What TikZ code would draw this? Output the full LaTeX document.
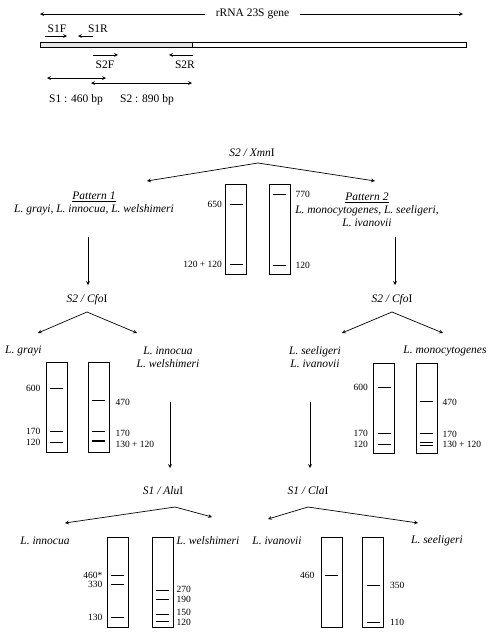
\documentclass[tikz,border=0pt]{standalone}
\usepackage{fontspec}
\setmainfont{Liberation Serif}
\usetikzlibrary{positioning, arrows}
\tikzset{
>=stealth, % small filled arrow heads
every node/.style={font=\fontsize{11.5}{13}\selectfont, inner sep=1pt}, % text of the scheme
gel/.style={draw, line width=0.8pt, minimum width=21pt, minimum height=90pt, inner sep=0pt}, % one lane of a gel
band/.style={line width=1pt}, % a band in a lane
size/.style={font=\fontsize{9.5}{10}\selectfont, inner sep=0pt}, % the size of a band
link/.style={->, line width=0.7pt}, % arrows of the scheme
}

\begin{document}
\begin{tikzpicture}[x=1pt, y=-1pt]
\useasboundingbox (0,0) rectangle (490,633);

% gene and primers
\node[minimum width=95pt] (gene) at (252.5,14) {rRNA 23S gene};
\coordinate (gl) at (40,14);
\coordinate (gr) at (463,14);
\draw[link] (gene.west) -- (gl);
\draw[link] (gene.east) -- (gr);

\node[draw, fill=gray!20, minimum width=152pt, minimum height=5pt, inner sep=0pt, anchor=west] (s12) at (40,44.5) {};
\node[draw, minimum width=274pt, minimum height=5pt, inner sep=0pt, anchor=west] (rest) at (s12.east) {};

\node (s1f) at (57,29) {S1F};
\node (s1r) at (98,29) {S1R};
\node (s2f) at (105,65) {S2F};
\node (s2r) at (185,65) {S2R};
\draw[link] ([shift={(-12,2)}]s1f.south) -- ([shift={(10,2)}]s1f.south);
\draw[link] ([shift={(-5,2)}]s1r.south) -- ([shift={(-20,2)}]s1r.south);
\draw[link] ([shift={(-12,-5)}]s2f.north) -- ([shift={(13,-5)}]s2f.north);
\draw[link] ([shift={(8,-5)}]s2r.north) -- ([shift={(-16,-5)}]s2r.north);

\coordinate (a1) at (47,78);
\coordinate (b1) at (106,78);
\coordinate (a2) at (91,83);
\coordinate (b2) at (192,83);
\draw[link, <->] (a1) -- (b1);
\draw[link, <->] (a2) -- (b2);
\node (s1len) at (76,100) {S1 : 460 bp};
\node (s2len) at (147,100) {S2 : 890 bp};

% S2 / XmnI
\node (xmn) at (252,153) {\textit{S2 / Xmn}I};
\coordinate (xm) at (258,163);
\coordinate (xl) at (147,181);
\coordinate (xr) at (375,181);
\draw[link] (xm) -- (xl);
\draw[link] (xm) -- (xr);

\node[align=center] (pat1) at (94,203.5) {\underline{\textit{Pattern 1}}\\\textit{L. grayi, L. innocua, L. welshimeri}};
\node[align=center] (pat2) at (367,209.5) {\underline{\textit{Pattern 2}}\\\textit{L. monocytogenes, L. seeligeri,}\\\textit{L. ivanovii}};

\node[gel] (x1) at (236,229.5) {};
\node[gel] (x2) at (279.5,229.5) {};
\foreach \y/\t in {204/650, 264/{120 + 120}} {
  \draw[band] (x1.center |- 0,\y) ++(-6.5,0) -- ++(13,0);
  \node[size, left=3pt] (x1-\y) at (x1.west |- 0,\y) {\t};
}
\foreach \y/\t in {194/770, 265/120} {
  \draw[band] (x2.center |- 0,\y) ++(-6.5,0) -- ++(13,0);
  \node[size, right=5pt] (x2-\y) at (x2.east |- 0,\y) {\t};
}

\coordinate (p1) at (88,237);
\coordinate (p1e) at (88,285);
\coordinate (p2) at (395,237);
\coordinate (p2e) at (395,285);
\draw[link] (p1) -- (p1e);
\draw[link] (p2) -- (p2e);

% pattern 1: S2 / CfoI
\node (cfol) at (87,300) {\textit{S2 / Cfo}I};
\coordinate (cl) at (87,312);
\coordinate (cll) at (38,333);
\coordinate (clr) at (137,333);
\draw[link] (cl) -- (cll);
\draw[link] (cl) -- (clr);
\node[anchor=west] (gray) at (4,351) {\textit{L. grayi}};
\node[align=center] (innwel) at (168,357.5) {\textit{L. innocua}\\\textit{L. welshimeri}};

\node[gel] (ga) at (56.5,407) {};
\node[gel] (gb) at (98.5,407) {};
\foreach \y/\t in {388/600, 431/170, 442/120} {
  \draw[band] (ga.center |- 0,\y) ++(-6.5,0) -- ++(13,0);
  \node[size, left=5pt] (ga-\y) at (ga.west |- 0,\y) {\t};
}
\foreach \y/\t in {400/470, 431/170} {
  \draw[band] (gb.center |- 0,\y) ++(-6.5,0) -- ++(13,0);
  \node[size, right=6pt] (gb-\y) at (gb.east |- 0,\y+2) {\t};
}
\draw[band, line width=2pt] (gb.center |- 0,441) ++(-6.5,0) -- ++(13,0);
\node[size, right=6pt] (gb-441) at (gb.east |- 0,444) {130 + 120};

\coordinate (q1) at (170,402);
\coordinate (q1e) at (170,468);
\draw[link] (q1) -- (q1e);

% pattern 2: S2 / CfoI
\node (cfor) at (392,300) {\textit{S2 / Cfo}I};
\coordinate (cr) at (392,312);
\coordinate (crl) at (342,333);
\coordinate (crr) at (443,333);
\draw[link] (cr) -- (crl);
\draw[link] (cr) -- (crr);
\node[align=center] (seeiva) at (315,357.5) {\textit{L. seeligeri}\\\textit{L. ivanovii}};
\node (mono) at (445,351) {\textit{L. monocytogenes}};

\node[gel] (gc) at (384,408) {};
\node[gel] (gd) at (426.5,408) {};
\foreach \y/\t in {387/600, 433/170, 444/120} {
  \draw[band] (gc.center |- 0,\y) ++(-6.5,0) -- ++(13,0);
  \node[size, left=5pt] (gc-\y) at (gc.west |- 0,\y) {\t};
}
\foreach \y/\t in {401/470, 433/170} {
  \draw[band] (gd.center |- 0,\y) ++(-6.5,0) -- ++(13,0);
  \node[size, right=5pt] (gd-\y) at (gd.east |- 0,\y+1) {\t};
}
\foreach \y in {442, 445}
  \draw[band, line width=0.8pt] (gd.center |- 0,\y) ++(-6.5,0) -- ++(13,0);
\node[size, right=5pt] (gd-444) at (gd.east |- 0,444) {130 + 120};

\coordinate (q2) at (310,402);
\coordinate (q2e) at (310,468);
\draw[link] (q2) -- (q2e);

% S1 / AluI
\node (alu) at (163,491) {\textit{S1 / Alu}I};
\coordinate (al) at (175,507);
\coordinate (all) at (65,523);
\coordinate (alr) at (212,517);
\draw[link] (al) -- (all);
\draw[link] (al) -- (alr);
\node (inn) at (45,541) {\textit{L. innocua}};
\node (wel) at (208,541) {\textit{L. welshimeri}};

\node[gel] (ge) at (117.5,582) {};
\node[gel] (gf) at (162.5,582) {};
\foreach \y/\t in {575/460*, 584/330, 617/130} {
  \draw[band] (ge.center |- 0,\y) ++(-6.5,0) -- ++(13,0);
  \node[size, left=4pt] (ge-\y) at (ge.west |- 0,\y) {\t};
}
\foreach \y/\t in {590/270, 599/190, 614/150, 621/120} {
  \draw[band] (gf.center |- 0,\y) ++(-6.5,0) -- ++(13,0);
}
\foreach \y/\t in {589/270, 599/190, 612.5/150, 622/120} {
  \node[size, right=3pt] (gf-\y) at (gf.east |- 0,\y) {\t};
}

% S1 / ClaI
\node (cla) at (308,491) {\textit{S1 / Cla}I};
\coordinate (ca) at (308,507);
\coordinate (cal) at (268,519);
\coordinate (car) at (418,523);
\draw[link] (ca) -- (cal);
\draw[link] (ca) -- (car);
\node (iva) at (277,541) {\textit{L. ivanovii}};
\node (see) at (437,541) {\textit{L. seeligeri}};

\node[gel] (gg) at (331.5,582) {};
\node[gel] (gh) at (373,582) {};
\draw[band] (gg.center |- 0,575) ++(-6.5,0) -- ++(13,0);
\node[size, left=6pt] (gg-575) at (gg.west |- 0,575) {460};
\foreach \y/\t in {585/350, 622/110} {
  \draw[band] (gh.center |- 0,\y) ++(-6.5,0) -- ++(13,0);
  \node[size, right=6pt] (gh-\y) at (gh.east |- 0,\y) {\t};
}
\end{tikzpicture}
\end{document}
